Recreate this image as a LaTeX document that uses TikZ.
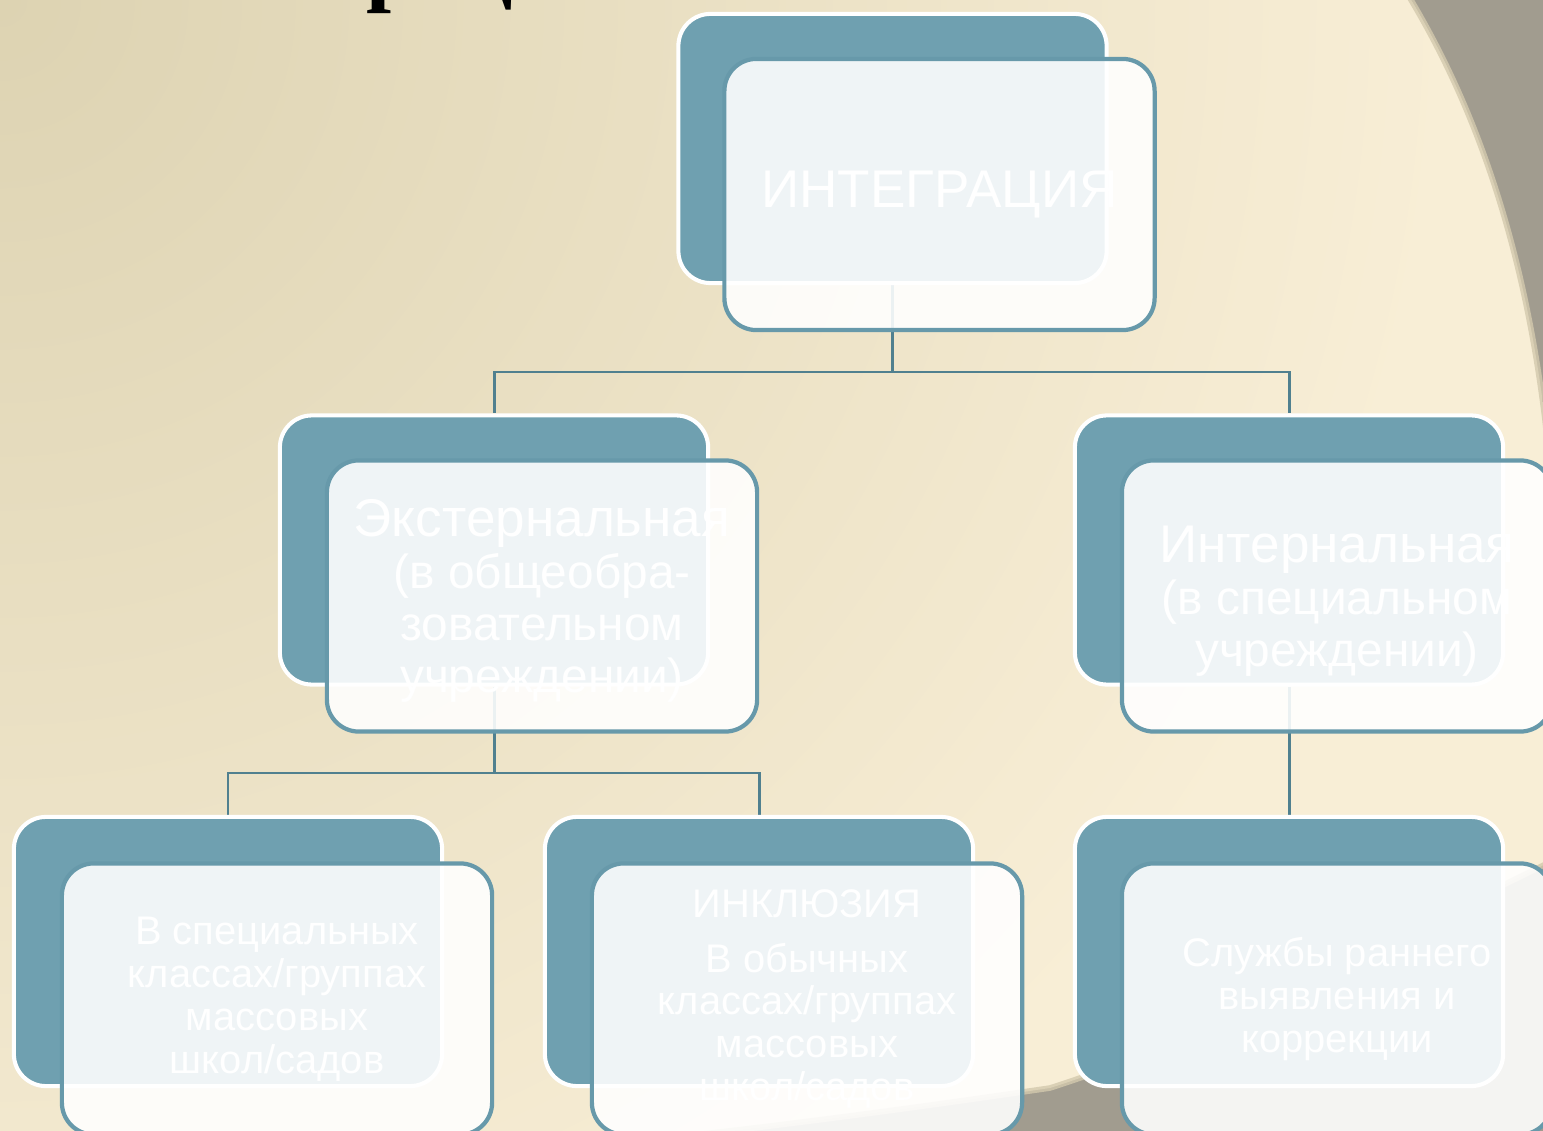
\documentclass[tikz,border=0pt]{standalone}
\usepackage{fontspec}
\setmainfont{Liberation Sans}
\newfontfamily\titlefont{Liberation Serif}
\pgfdeclarelayer{bgl}
\pgfdeclarelayer{connl}
\pgfsetlayers{bgl,connl,main}
\definecolor{boxteal}{HTML}{6FA0B0}
\definecolor{lineteal}{HTML}{6799AA}
\definecolor{connteal}{HTML}{50808F}
\definecolor{beigeA}{HTML}{DDD3B2}
\definecolor{beigeB}{HTML}{F8EED6}
\definecolor{grayA}{HTML}{A19C8F}
\definecolor{edgeshade}{HTML}{D3C9AD}
\newcommand\hdline[1]{{\fontsize{15.1pt}{14.8pt}\selectfont #1}}
\begin{document}
\begin{tikzpicture}[x=0.01cm,y=-0.01cm,
  tbox/.style={draw=white, line width=1.15pt, fill=boxteal, rounded corners=0.32cm,
    minimum width=4.28cm, minimum height=2.69cm, inner sep=0pt},
  wbox/.style={draw=lineteal, line width=1.2pt, fill=white, fill opacity=0.89, text opacity=1,
    rounded corners=0.32cm, minimum width=4.30cm, minimum height=2.71cm, inner sep=0pt,
    text=white, align=center},
  lbl/.style={inner sep=0pt, text=white, align=center},
  bigtext/.style={font=\fontsize{15.1pt}{14.8pt}\selectfont},
  midtext/.style={font=\fontsize{13.6pt}{14.8pt}\selectfont},
  smalltext/.style={font=\fontsize{11.35pt}{12.2pt}\selectfont},
  connline/.style={draw=connteal, line width=0.85pt}
]
\useasboundingbox (0,0) rectangle (1543,1131);

% background
\begin{pgfonlayer}{bgl}
\fill[grayA] (0,0) rectangle (1543,1131);
\begin{scope}
\clip (-5,-5) -- (1408,-5) .. controls (1490,130) and (1528,280) .. (1545,420)
  .. controls (1556,520) and (1556,700) .. (1550,862)
  .. controls (1350,960) and (1200,1040) .. (1050,1088)
  .. controls (900,1110) and (750,1130) .. (600,1145) -- (-5,1145) -- cycle;
\fill[beigeB] (-5,-5) rectangle (1560,1150);
\shade[inner color=beigeA, outer color=beigeB] (0,0) circle (1450);
\end{scope}
\draw[edgeshade, line width=1.6pt, opacity=0.8]
  (1408,-5) .. controls (1490,130) and (1528,280) .. (1545,420)
  .. controls (1556,520) and (1556,700) .. (1550,862)
  .. controls (1350,960) and (1200,1040) .. (1050,1088)
  .. controls (900,1110) and (750,1130) .. (600,1145);
\node[anchor=base west, inner sep=0pt,
  font=\titlefont\bfseries\fontsize{25.6pt}{30pt}\selectfont] (title) at (119,-5) {Интеграция};
\end{pgfonlayer}

% level 1
\node[tbox] (t1) at (892.5,148.5) {};
\node[wbox, bigtext] (w1) at (939.5,194.5) {ИНТЕГРАЦИЯ};

% level 2
\node[tbox] (t2) at (494,550) {};
\node[wbox] (w2) at (542,596) {};
\node[lbl, midtext] (x2) at ([yshift=-0.05cm]w2.center) {\hdline{Экстернальная}\\(в общеобра-\\зовательном\\учреждении)};
\node[tbox] (t3) at (1289,550) {};
\node[wbox] (w3) at (1337,596) {};
\node[lbl, midtext] (x3) at ([yshift=-0.05cm]w3.center) {\hdline{Интернальная}\\(в специальном\\учреждении)};

% level 3
\node[tbox] (t4) at (228,951.5) {};
\node[wbox, smalltext] (w4) at (277,999) {В специальных\\классах/группах\\массовых\\школ/садов};
\node[tbox] (t5) at (759,951.5) {};
\node[wbox, smalltext] (w5) at (807,999) {ИНКЛЮЗИЯ\\[3.4pt]В обычных\\классах/группах\\массовых\\школ/садов};
\node[tbox] (t6) at (1289,951.5) {};
\node[wbox, smalltext] (w6) at (1337,999) {Службы раннего\\выявления и\\коррекции};

% connectors
\coordinate (b1) at (892.5,372);
\coordinate (b2) at (494,773);
\begin{pgfonlayer}{connl}
\draw[connline] (t1.south) -- (b1) -| (t2.north);
\draw[connline] (b1) -| (t3.north);
\draw[connline] (t2.south) -- (b2) -| (t4.north);
\draw[connline] (b2) -| (t5.north);
\draw[connline] (t3.south) -- (t6.north);
\end{pgfonlayer}
\end{tikzpicture}
\end{document}
